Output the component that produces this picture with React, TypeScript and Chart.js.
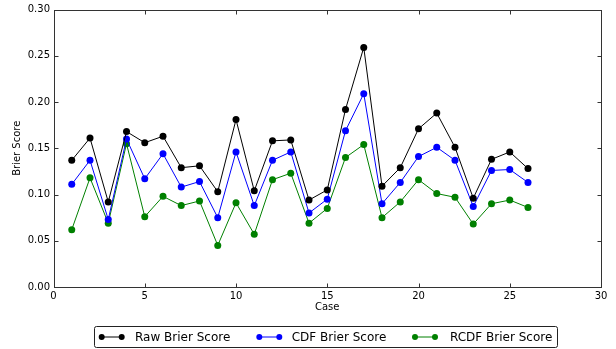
import React, { useEffect, useRef } from "react";
import { Chart, registerables } from "chart.js";

Chart.register(...registerables);

const cases = [1, 2, 3, 4, 5, 6, 7, 8, 9, 10, 11, 12, 13, 14, 15, 16, 17, 18, 19, 20, 21, 22, 23, 24, 25, 26];
const rawBrier = [0.137, 0.161, 0.092, 0.168, 0.156, 0.163, 0.129, 0.131, 0.103, 0.181, 0.104, 0.158, 0.159, 0.094, 0.105, 0.192, 0.259, 0.109, 0.129, 0.171, 0.188, 0.151, 0.096, 0.138, 0.146, 0.128];
const cdfBrier = [0.111, 0.137, 0.073, 0.160, 0.117, 0.144, 0.108, 0.114, 0.075, 0.146, 0.088, 0.137, 0.146, 0.080, 0.095, 0.169, 0.209, 0.090, 0.113, 0.141, 0.151, 0.137, 0.087, 0.126, 0.127, 0.113];
const rcdfBrier = [0.062, 0.118, 0.069, 0.155, 0.076, 0.098, 0.088, 0.093, 0.045, 0.091, 0.057, 0.116, 0.123, 0.069, 0.085, 0.140, 0.154, 0.075, 0.092, 0.116, 0.101, 0.097, 0.068, 0.090, 0.094, 0.086];
const seriesNames = ["Raw Brier Score", "CDF Brier Score", "RCDF Brier Score"];
const seriesColors = ["#000000", "#0000ff", "#008000"];
const xTicks = [0, 5, 10, 15, 20, 25, 30];
const yTicks = [0, 0.05, 0.1, 0.15, 0.2, 0.25, 0.3];

const FONT = "'DejaVu Sans', sans-serif";

const framePlugin = {
  id: "frameAndLegend",
  afterDraw(chart: any) {
    const { ctx, chartArea: a, scales } = chart;
    ctx.save();
    ctx.strokeStyle = "#000";
    ctx.lineWidth = 1;
    const l = Math.round(a.left) + 0.5;
    const r = Math.round(a.right) + 0.5;
    const t = Math.round(a.top) + 0.5;
    const b = Math.round(a.bottom) + 0.5;
    ctx.strokeStyle = "#333";
    ctx.strokeRect(l, t, r - l, b - t);
    const L = 4;
    ctx.beginPath();
    for (const v of xTicks) {
      const px = Math.round(scales.x.getPixelForValue(v)) + 0.5;
      ctx.moveTo(px, b);
      ctx.lineTo(px, b - L);
      ctx.moveTo(px, t);
      ctx.lineTo(px, t + L);
    }
    for (const v of yTicks) {
      const py = Math.round(scales.y.getPixelForValue(v)) + 0.5;
      ctx.moveTo(l, py);
      ctx.lineTo(l + L, py);
      ctx.moveTo(r, py);
      ctx.lineTo(r - L, py);
    }
    ctx.stroke();

    // legend (layout offsets relative to the box)
    ctx.font = "12px " + FONT;
    const boxL = 94.5;
    const boxW = 463;
    const boxT = 326.5;
    const boxH = 21;
    const handleStarts = [7.2, 164.8, 320.5];
    const textStarts = [40.5, 197.2, 355.5];
    const handle = 20;
    ctx.beginPath();
    const rad = 2;
    ctx.moveTo(boxL + rad, boxT);
    ctx.lineTo(boxL + boxW - rad, boxT);
    ctx.arcTo(boxL + boxW, boxT, boxL + boxW, boxT + rad, rad);
    ctx.lineTo(boxL + boxW, boxT + boxH - rad);
    ctx.arcTo(boxL + boxW, boxT + boxH, boxL + boxW - rad, boxT + boxH, rad);
    ctx.lineTo(boxL + rad, boxT + boxH);
    ctx.arcTo(boxL, boxT + boxH, boxL, boxT + boxH - rad, rad);
    ctx.lineTo(boxL, boxT + rad);
    ctx.arcTo(boxL, boxT, boxL + rad, boxT, rad);
    ctx.closePath();
    ctx.fillStyle = "#fff";
    ctx.fill();
    ctx.strokeStyle = "#222";
    ctx.stroke();
    const cy = boxT + boxH / 2;
    seriesNames.forEach((name, i) => {
      const x = boxL + handleStarts[i];
      ctx.strokeStyle = seriesColors[i];
      ctx.fillStyle = seriesColors[i];
      ctx.lineWidth = 1;
      ctx.beginPath();
      ctx.moveTo(x, cy);
      ctx.lineTo(x + handle, cy);
      ctx.stroke();
      for (const px of [x, x + handle]) {
        ctx.beginPath();
        ctx.arc(px, cy, 3, 0, Math.PI * 2);
        ctx.fill();
      }
      ctx.fillStyle = "#000";
      ctx.textBaseline = "middle";
      ctx.textAlign = "left";
      ctx.fillText(name, boxL + textStarts[i], cy + 0.5);
    });
    ctx.restore();
  },
};

export default function App() {
  const ref = useRef<HTMLCanvasElement | null>(null);
  useEffect(() => {
    document.body.style.margin = "0";
    const seriesValues = [rawBrier, cdfBrier, rcdfBrier];
    const chart = new Chart(ref.current as HTMLCanvasElement, {
      type: "scatter",
      data: {
        datasets: seriesValues.map((vals, i) => ({
          label: seriesNames[i],
          data: cases.map((c, j) => ({ x: c, y: vals[j] })),
          showLine: true,
          borderColor: seriesColors[i],
          backgroundColor: seriesColors[i],
          borderWidth: 1,
          pointRadius: 3.5,
          pointBorderWidth: 0,
          pointHoverRadius: 3.5,
        })),
      },
      options: {
        animation: false,
        responsive: false,
        events: [],
        layout: { padding: { left: 0, right: 15, top: 8, bottom: 32 } },
        plugins: { legend: { display: false }, tooltip: { enabled: false } },
        scales: {
          x: {
            type: "linear",
            min: 0,
            max: 30,
            grid: { display: false, drawTicks: false },
            border: { display: false },
            ticks: {
              stepSize: 5,
              padding: 3,
              color: "#000",
              font: { family: FONT, size: 10 },
              maxRotation: 0,
            },
            title: {
              display: true,
              text: "Case",
              color: "#000",
              font: { family: FONT, size: 10 },
              padding: { top: 0, bottom: 4 },
            },
            afterFit: (s: any) => {
              s.height = 30;
            },
          },
          y: {
            type: "linear",
            min: 0,
            max: 0.3,
            grid: { display: false, drawTicks: false },
            border: { display: false },
            ticks: {
              stepSize: 0.05,
              padding: 3.5,
              color: "#000",
              font: { family: FONT, size: 10 },
              callback: (v: any) => Number(v).toFixed(2),
            },
            title: {
              display: true,
              text: "Brier Score",
              color: "#000",
              font: { family: FONT, size: 10 },
              padding: { top: 11, bottom: 0 },
            },
            afterFit: (s: any) => {
              s.width = 53.5;
            },
          },
        },
      },
      plugins: [framePlugin],
    });
    return () => chart.destroy();
  }, []);
  return <canvas ref={ref} width={616} height={349} style={{ display: "block" }} />;
}
